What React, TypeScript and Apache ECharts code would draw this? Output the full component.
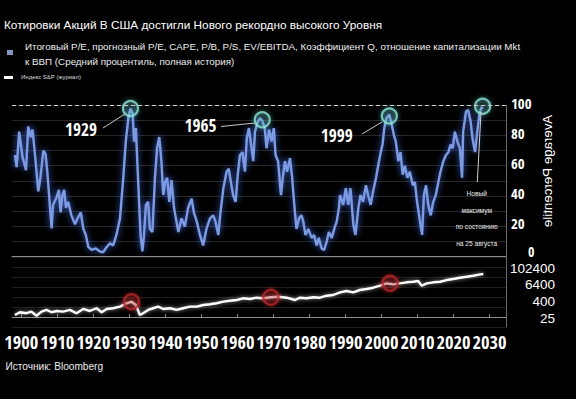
import React, { useEffect, useRef } from 'react';
import * as echarts from 'echarts';

const SANS = "'Liberation Sans', Arial, 'DejaVu Sans', sans-serif";
const NARROW_CANDIDATES = [
  'Liberation Sans Narrow', 'Arial Narrow', 'DejaVu Sans Condensed', 'Noto Sans Condensed',
  'Noto Sans SemiCondensed', 'Roboto Condensed', 'Open Sans Condensed', 'Noto Sans CJK SC',
  'Liberation Sans', 'Roboto',
];

const TITLE = 'Котировки Акций В США достигли Нового рекордно высокого Уровня';
const LEGEND_VAL_1 = 'Итоговый P/E, прогнозный P/E, CAPE, P/B, P/S, EV/EBITDA, Коэффициент Q, отношение капитализации Mkt';
const LEGEND_VAL_2 = 'к ВВП (Средний процентиль, полная история)';
const LEGEND_SPX = 'Индекс S&P (журнал)';
const SOURCE = 'Источник: Bloomberg';
const AXIS_TITLE = 'Average Percentile';
const NOTE_LINES = ['Новый', 'максимум', 'по состоянию', 'на 25 августа'];

const yearTicks = [1900, 1910, 1920, 1930, 1940, 1950, 1960, 1970, 1980, 1990, 2000, 2010, 2020, 2030];
const spxTicks = [25, 400, 6400, 102400];

// Average valuation percentile (top panel)
const valuationYears = [
  1898.2, 1898.7, 1899.4, 1900.3, 1901.3, 1901.9, 1902.6, 1903.1, 1903.8, 1904.7,
  1905.3, 1906.1, 1906.7, 1907.2, 1907.7, 1908.4, 1908.8, 1909.8, 1910.4, 1910.9,
  1911.4, 1911.9, 1912.4, 1913.0, 1913.9, 1914.9, 1915.6, 1916.5, 1917.2, 1917.9,
  1918.6, 1919.5, 1920.7, 1921.8, 1922.7, 1923.7, 1924.6, 1925.5, 1926.4, 1927.4,
  1928.3, 1929.0, 1929.7, 1930.3, 1930.9, 1931.3, 1931.8, 1932.4, 1933.1, 1933.6,
  1934.0, 1934.6, 1935.2, 1935.7, 1936.4, 1937.1, 1937.7, 1938.3, 1938.9, 1939.4,
  1939.9, 1940.5, 1941.1, 1941.7, 1942.4, 1943.6, 1944.5, 1945.4, 1946.3, 1947.3,
  1947.9, 1948.7, 1949.6, 1950.5, 1951.4, 1952.4, 1953.3, 1953.9, 1954.7, 1955.3,
  1956.1, 1957.0, 1957.6, 1958.2, 1958.8, 1959.5, 1960.1, 1960.7, 1961.4, 1962.1,
  1962.6, 1963.2, 1963.8, 1964.4, 1964.9, 1965.6, 1966.3, 1966.9, 1967.6, 1968.1,
  1968.8, 1969.5, 1970.1, 1970.6, 1971.3, 1972.1, 1972.7, 1973.2, 1973.8, 1974.6,
  1975.2, 1975.8, 1976.4, 1977.1, 1977.8, 1978.3, 1978.9, 1979.7, 1980.6, 1981.3,
  1982.0, 1982.6, 1983.4, 1984.1, 1984.8, 1985.4, 1986.2, 1986.9, 1987.6, 1988.2,
  1988.5, 1989.4, 1990.1, 1990.8, 1991.4, 1992.2, 1992.8, 1993.6, 1994.2, 1994.9,
  1995.7, 1996.3, 1997.0, 1997.7, 1998.5, 1999.1, 1999.8, 2000.3, 2000.8, 2001.4,
  2002.2, 2002.8, 2003.5, 2004.0, 2004.7, 2005.3, 2005.9, 2006.5, 2007.2, 2007.9,
  2008.7, 2009.3, 2009.9, 2010.7, 2011.3, 2011.8, 2012.4, 2013.0, 2013.7, 2014.4,
  2015.1, 2015.8, 2016.4, 2017.2, 2017.9, 2018.6, 2019.2, 2019.8, 2020.4, 2021.1,
  2021.8, 2022.4, 2022.7, 2023.5, 2024.1, 2024.8, 2025.3, 2026.0, 2026.4, 2027.2,
  2027.8, 2028.2,
];
const valuationPct = [
  67, 59, 82.6, 66, 57, 86, 79, 84, 67, 43,
  52, 70, 68, 56, 40.5, 18.4, 34, 39, 44, 29,
  40.5, 44, 32, 36, 27, 21, 25, 29, 18, 14,
  6, 4, 5, 3, 2.5, 6, 8.4, 7, 14, 25,
  52, 76, 91.5, 98, 95, 76, 85, 52, 14, 3,
  12, 34, 36, 18, 16, 52, 72, 79, 63, 40.5,
  49, 52, 36, 50.5, 32, 16, 25, 19.5, 32, 38,
  29, 23, 14, 7, 18, 25, 27, 23, 14, 29,
  45, 56, 58, 49, 40.5, 36, 54, 67, 69, 56,
  78, 85, 74, 63, 82.6, 89, 91.5, 90, 85, 71.5,
  84, 76, 85, 67, 63, 40.5, 54, 63, 56, 65,
  52, 34, 18, 25, 27, 23, 14, 18, 12, 14,
  7, 12, 5, 4, 9.5, 16, 12, 18, 23, 32,
  40.5, 34, 45, 34, 45, 21, 14, 32, 40.5, 36,
  47, 40.5, 34, 43, 52, 60, 69, 74, 85, 91.5,
  94, 88, 80, 76, 63, 69, 54, 60, 52, 56,
  47, 49, 36, 23, 14, 40.5, 47, 34, 27, 36,
  40.5, 49, 56, 63, 67, 69, 74, 71.5, 82.6, 76,
  71.5, 52, 82.6, 96, 97, 89, 78, 69, 78, 94,
  99, 98,
];

// S&P index (bottom panel, log scale)
const spxYears = [
  1898.2, 1899.6, 1901.4, 1902.8, 1904.2, 1905.6, 1907.0, 1908.4, 1909.8, 1911.6,
  1913.5, 1915.3, 1917.2, 1919.0, 1920.9, 1922.3, 1923.7, 1925.5, 1927.4, 1929.2,
  1930.6, 1931.8, 1932.9, 1933.8, 1935.2, 1936.6, 1938.0, 1939.4, 1941.3, 1943.1,
  1944.9, 1946.8, 1948.7, 1950.5, 1952.4, 1954.2, 1956.1, 1957.9, 1959.8, 1961.6,
  1963.5, 1965.3, 1967.2, 1969.3, 1971.3, 1973.7, 1976.0, 1977.4, 1979.2, 1981.1,
  1982.9, 1984.8, 1986.6, 1988.5, 1990.3, 1992.2, 1994.0, 1995.9, 1997.7, 1999.6,
  2001.4, 2003.3, 2005.1, 2007.0, 2008.8, 2010.2, 2011.2, 2012.6, 2014.4, 2016.3,
  2018.1, 2019.9, 2021.8, 2023.7, 2025.5, 2027.4, 2028.3,
];
const spxLevels = [
  35, 55, 47, 61, 31, 61, 81, 55, 68, 61,
  81, 47, 95, 68, 107, 55, 95, 107, 140, 245,
  320, 185, 35, 47, 81, 107, 140, 95, 107, 81,
  107, 140, 140, 185, 207, 245, 320, 377, 424, 562,
  500, 621, 562, 664, 734, 621, 424, 621, 562, 664,
  621, 865, 972, 1520, 1890, 1520, 2230, 2630, 3260, 4550,
  6770, 5740, 6770, 8010, 8840, 9940, 4550, 6770, 8010, 8840,
  11700, 13800, 17200, 20300, 23900, 30200, 31800,
];

// Highlighted peaks
const peakLabels = ['1929', '1965', '1999'];
const peakYears = [1930.3, 1966.9, 2002.2, 2028.1];
const peakPct = [98, 90.5, 93, 99.5];
const spxPeakYears = [1930.6, 1969.3, 2002.4];
const spxPeakLevels = [320, 664, 6770];

const LOG16 = Math.log(16);
const toLog = (v: number) => Math.log(v / spxTicks[0]) / LOG16;
const fromLog = (k: number) => Math.round(spxTicks[0] * Math.pow(16, k));

function getCtx() {
  const c = document.createElement('canvas');
  return c.getContext('2d') as CanvasRenderingContext2D | null;
}

function pickNarrow(ctx: CanvasRenderingContext2D | null): string {
  if (!ctx) return SANS;
  const probe = 'mmmwwwlli 1900 ABCабв';
  ctx.font = '40px monospace';
  const base1 = ctx.measureText(probe).width;
  ctx.font = '40px serif';
  const base2 = ctx.measureText(probe).width;
  let best = SANS;
  let bestRatio = Infinity;
  for (const f of NARROW_CANDIDATES) {
    ctx.font = `40px '${f}', monospace`;
    const a = ctx.measureText(probe).width;
    ctx.font = `40px '${f}', serif`;
    const b = ctx.measureText(probe).width;
    if (a === base1 && b === base2) continue;
    ctx.font = `100px '${f}'`;
    const m = ctx.measureText('1900');
    const ratio = m.width / (m.actualBoundingBoxAscent || 72);
    if (ratio < bestRatio - 0.01) {
      bestRatio = ratio;
      best = `'${f}', sans-serif`;
    }
  }
  return best;
}

function fit(ctx: CanvasRenderingContext2D | null, family: string, sample: string, w: number, h: number, fallback: number) {
  if (!ctx) return fallback;
  ctx.font = `100px ${family}`;
  const m = ctx.measureText(sample);
  if (!m.width) return fallback;
  let s = (100 * w) / m.width;
  if (h > 0 && m.actualBoundingBoxAscent) s = Math.min(s, (100 * h) / m.actualBoundingBoxAscent);
  return Math.round(s * 10) / 10;
}

export default function App() {
  const ref = useRef<HTMLDivElement>(null);

  useEffect(() => {
    if (!ref.current) return;
    const ctx = getCtx();
    const NARROW = pickNarrow(ctx);
    const fsYear = fit(ctx, NARROW, '2000', 34, 14.7, 16);
    const fsPeak = fit(ctx, NARROW, '1929', 32, 15, 16);
    const fsTopY = fit(ctx, NARROW, '100', 20.5, 11.7, 14);
    const fsBotY = Math.min(14, fit(ctx, SANS, '102400', 45, 12, 14));
    const fsNote = fit(ctx, SANS, 'по состоянию', 41.6, 0, 6.5);
    const fsVert = fit(ctx, SANS, AXIS_TITLE, 112, 10.5, 13);
    const fsTitle = fit(ctx, SANS, TITLE, 378, 0, 12);
    const fsLeg = fit(ctx, SANS, LEGEND_VAL_1, 495, 0, 10);
    const fsLegSpx = fit(ctx, SANS, LEGEND_SPX, 60, 0, 6);
    const fsSource = fit(ctx, SANS, SOURCE, 98, 0, 11);

    const chart = echarts.init(ref.current, null, { renderer: 'svg' });

    const valData = valuationYears.map((y, i) => [y, valuationPct[i]]);
    const spxData = spxYears.map((y, i) => [y, toLog(spxLevels[i])]);
    const peakData = peakYears.map((y, i) => [y, peakPct[i]]);
    const spxPeakData = spxPeakYears.map((y, i) => [y, toLog(spxPeakLevels[i])]);

    const xMin = 1897.4;
    const xMax = 2034.6;

    const text = (x: number, y: number, t: string, size: number, family: string, extra: any = {}) => ({
      type: 'text',
      x,
      y,
      z: 100,
      silent: true,
      style: {
        text: t,
        fill: '#ffffff',
        fontSize: size,
        fontFamily: family,
        textAlign: 'left',
        textVerticalAlign: 'middle',
        ...extra,
      },
    });
    const line = (x1: number, y1: number, x2: number, y2: number, color = '#c8c8c8') => ({
      type: 'line',
      z: 100,
      silent: true,
      shape: { x1, y1, x2, y2 },
      style: { stroke: color, lineWidth: 1 },
    });

    const graphics: any[] = [
      text(4, 24.5, TITLE, fsTitle, SANS),
      { type: 'rect', z: 100, shape: { x: 7, y: 50, width: 6, height: 5 }, style: { fill: '#8596c6' }, silent: true },
      text(25, 46.7, LEGEND_VAL_1, fsLeg, SANS, { fill: '#eeeeee' }),
      text(25, 61.7, LEGEND_VAL_2, fsLeg, SANS, { fill: '#eeeeee' }),
      { type: 'rect', z: 100, shape: { x: 4, y: 76, width: 9, height: 3 }, style: { fill: '#ffffff' }, silent: true },
      text(21, 77.3, LEGEND_SPX, fsLegSpx, SANS, { fill: '#dddddd' }),
      text(5.5, 366.7, SOURCE, fsSource, SANS, { fill: '#eeeeee' }),
      text(81, 129.2, peakLabels[0], fsPeak, NARROW, { textAlign: 'center' }),
      text(200.5, 125.8, peakLabels[1], fsPeak, NARROW, { textAlign: 'center' }),
      text(336.7, 135, peakLabels[2], fsPeak, NARROW, { textAlign: 'center' }),
      line(103, 128, 125, 114),
      line(221, 126.5, 255, 123),
      line(362, 134, 382, 122),
      line(481, 112, 477.3, 182, '#d0d0d0'),
      ...NOTE_LINES.map((t, i) => text(476.7, 193.3 + i * 16.7, t, fsNote, SANS, { textAlign: 'center', fill: '#f0f0f0' })),
      {
        type: 'text',
        x: 547.5,
        y: 171,
        z: 100,
        rotation: -Math.PI / 2,
        scaleY: -1,
        silent: true,
        style: {
          text: AXIS_TITLE,
          fill: '#ffffff',
          fontSize: fsVert,
          fontFamily: SANS,
          textAlign: 'center',
          textVerticalAlign: 'middle',
        },
      },
    ];

    chart.setOption({
      animation: false,
      backgroundColor: '#000000',
      grid: [
        { left: 12, width: 494, top: 105.5, height: 150.5 },
        { left: 12, width: 494, top: 257, height: 70 },
      ],
      xAxis: [
        {
          type: 'value',
          gridIndex: 0,
          min: xMin,
          max: xMax,
          axisLine: { show: true, lineStyle: { color: '#8a8a8a', width: 1 } },
          axisTick: { show: false },
          axisLabel: { show: false },
          splitLine: { show: false },
        },
        {
          type: 'value',
          gridIndex: 1,
          min: xMin,
          max: xMax,
          axisLine: { show: true, lineStyle: { color: '#8a8a8a', width: 1 } },
          axisTick: { show: true, inside: true, length: 3, customValues: yearTicks, lineStyle: { color: '#8a8a8a' } },
          axisLabel: {
            show: true,
            customValues: yearTicks,
            showMinLabel: true,
            showMaxLabel: true,
            color: '#ffffff',
            fontSize: fsYear,
            fontFamily: NARROW,
            margin: Math.max(2, 16.3 - fsYear * 0.6),
            formatter: (v: number) => String(Math.round(v)),
          },
          splitLine: { show: false },
        },
      ],
      yAxis: [
        {
          type: 'value',
          gridIndex: 0,
          position: 'right',
          min: 0,
          max: 100,
          interval: 10,
          axisLine: { show: true, lineStyle: { color: '#6a6a6a' } },
          axisTick: { show: false },
          axisLabel: {
            color: '#ffffff',
            fontSize: fsTopY,
            fontFamily: NARROW,
            margin: 5,
            verticalAlign: 'bottom',
            lineHeight: 6,
            formatter: (v: number) => (v % 20 === 0 ? (v === 0 ? '{z|0}' : String(v)) : ''),
            rich: { z: { padding: [0, 0, 0, 17], fontSize: 14, fontFamily: NARROW, color: '#ffffff', lineHeight: 10 } },
          },
          splitLine: { show: true, lineStyle: { color: '#262626', width: 1 } },
        },
        {
          type: 'value',
          gridIndex: 1,
          position: 'right',
          min: -0.6,
          max: 3.6,
          interval: 0.6,
          axisLine: { show: true, lineStyle: { color: '#6a6a6a' } },
          axisTick: { show: false },
          axisLabel: {
            customValues: spxTicks.map(toLog),
            color: '#ffffff',
            fontSize: fsBotY,
            fontFamily: SANS,
            align: 'right',
            verticalAlign: 'top',
            lineHeight: 2,
            margin: 49,
            formatter: (k: number) => String(fromLog(k)),
          },
          splitLine: { show: true, lineStyle: { color: '#1e1e1e', width: 1 } },
        },
      ],
      series: [
        {
          type: 'line',
          xAxisIndex: 0,
          yAxisIndex: 0,
          data: valData,
          showSymbol: false,
          lineStyle: { color: '#7c9be3', width: 2.4, shadowColor: 'rgba(70,110,230,0.9)', shadowBlur: 6 },
          markLine: {
            silent: true,
            symbol: ['none', 'none'],
            label: { show: false },
            lineStyle: { type: [4, 3], color: '#cfcfcf', width: 1 },
            data: [{ yAxis: 100 }],
          },
          z: 2,
        },
        {
          type: 'scatter',
          xAxisIndex: 0,
          yAxisIndex: 0,
          data: peakData,
          symbol: 'circle',
          symbolSize: 15,
          clip: false,
          itemStyle: {
            color: 'rgba(120,200,190,0.15)',
            borderColor: '#8de3d6',
            borderWidth: 2.2,
            shadowColor: 'rgba(80,200,180,0.8)',
            shadowBlur: 5,
          },
          z: 3,
        },
        {
          type: 'line',
          xAxisIndex: 1,
          yAxisIndex: 1,
          data: spxData,
          showSymbol: false,
          lineStyle: { color: '#ffffff', width: 2.4, shadowColor: 'rgba(255,255,255,0.6)', shadowBlur: 4 },
          z: 2,
        },
        {
          type: 'scatter',
          xAxisIndex: 1,
          yAxisIndex: 1,
          data: spxPeakData,
          symbol: 'circle',
          symbolSize: 15,
          clip: false,
          itemStyle: {
            color: 'rgba(150,30,30,0.25)',
            borderColor: '#b3262a',
            borderWidth: 2.4,
            shadowColor: 'rgba(200,40,40,0.8)',
            shadowBlur: 5,
          },
          z: 3,
        },
      ],
      graphic: graphics,
    });

    return () => chart.dispose();
  }, []);

  return (
    <div
      ref={ref}
      style={{ position: 'fixed', left: 0, top: 0, width: 576, height: 399, background: '#000000' }}
    />
  );
}
